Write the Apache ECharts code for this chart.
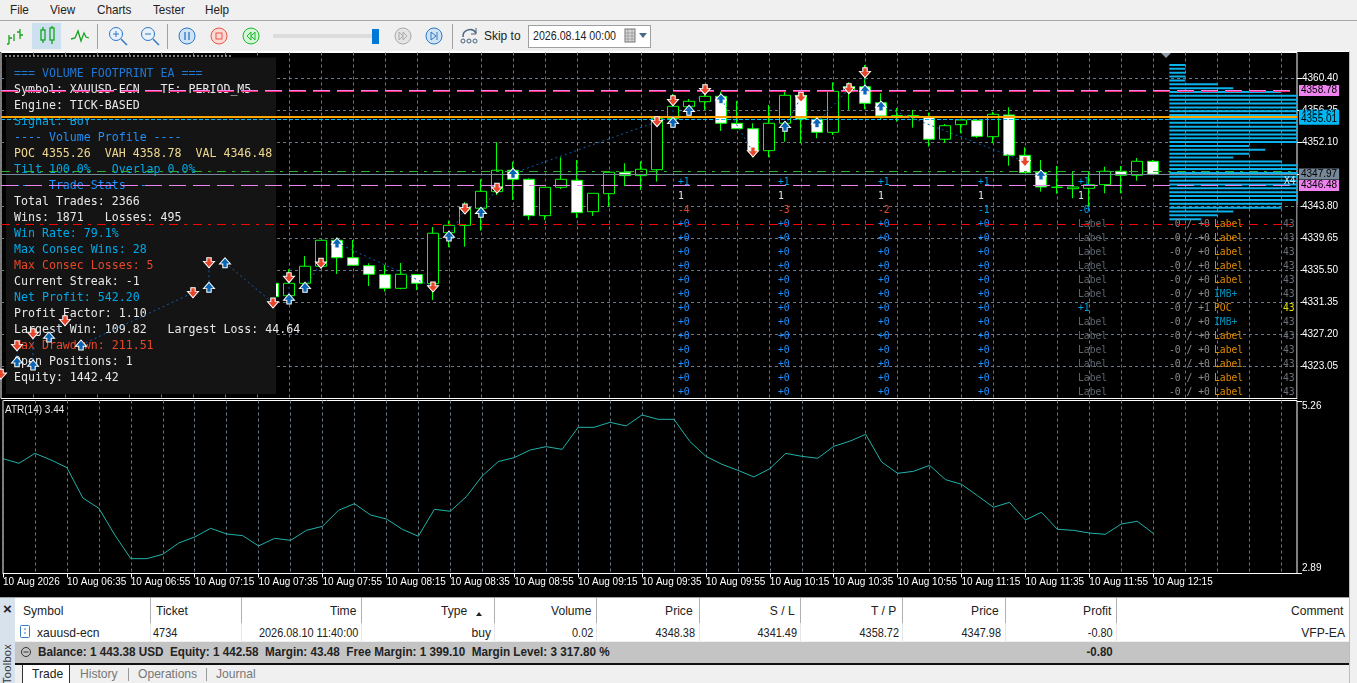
<!DOCTYPE html>
<html><head><meta charset="utf-8">
<script src="https://cdn.jsdelivr.net/npm/echarts@6/dist/echarts.min.js"></script>
<style>
html,body{margin:0;padding:0;width:1357px;height:683px;overflow:hidden;background:#f0f0f0}
#ui{position:absolute;left:0;top:0;width:1357px;height:683px;font-family:"Liberation Sans",sans-serif;font-size:13px;color:#222}
#ui .t{position:absolute;white-space:pre;line-height:16px}
#ui .r{position:absolute;background:#000}
#main{position:absolute;left:0;top:0;width:1357px;height:683px}
</style></head><body>
<div id="ui"></div>
<div id="main"></div>
<script>
// ---------- chart data (price, volume, ATR values) ----------
const xTickLabels = ["10 Aug 2026","10 Aug 06:35","10 Aug 06:55","10 Aug 07:15","10 Aug 07:35","10 Aug 07:55","10 Aug 08:15","10 Aug 08:35","10 Aug 08:55","10 Aug 09:15","10 Aug 09:35","10 Aug 09:55","10 Aug 10:15","10 Aug 10:35","10 Aug 10:55","10 Aug 11:15","10 Aug 11:35","10 Aug 11:55","10 Aug 12:15"];
const priceTicks = [4360.40,4356.25,4352.10,4347.95,4343.80,4339.65,4335.50,4331.35,4327.20,4323.05];
const atrTicks = [2.89,5.26];
const hiddenBars = 17;   // bars behind the stats panel
// [open, close, low, high]
const candles = [
[4333.81,4332.07,4331.65,4334.50],[4332.20,4333.81,4331.26,4335.63],[4333.81,4336.02,4332.72,4337.35],[4336.02,4339.39,4336.00,4339.39],
[4339.39,4337.13,4335.02,4339.72],[4337.13,4336.15,4336.15,4339.43],[4336.09,4334.98,4333.46,4336.41],[4334.93,4333.16,4332.72,4336.18],
[4333.16,4334.98,4333.03,4336.44],[4334.93,4333.81,4332.94,4334.93],[4333.76,4340.30,4331.65,4341.11],[4340.37,4341.33,4338.48,4341.93],
[4341.33,4343.58,4338.56,4344.32],[4343.54,4345.74,4340.63,4347.30],[4345.69,4348.47,4345.26,4352.10],[4348.47,4347.30,4344.61,4349.58],
[4347.30,4342.58,4342.02,4347.43],[4342.58,4346.26,4342.02,4346.30],[4346.26,4347.30,4346.04,4350.15],[4347.17,4342.97,4342.28,4349.80],
[4343.10,4345.48,4342.54,4345.48],[4345.43,4348.21,4343.75,4348.28],[4348.21,4347.77,4346.43,4349.37],[4347.77,4348.60,4345.91,4349.63],
[4348.54,4355.21,4346.99,4355.21],[4355.16,4356.76,4354.60,4358.36],[4356.71,4357.41,4355.64,4357.71],[4357.36,4358.06,4356.29,4359.31],
[4358.06,4354.56,4353.56,4358.66],[4354.56,4353.86,4353.86,4357.45],[4353.86,4351.01,4350.15,4354.56],[4351.01,4354.56,4350.15,4356.93],
[4354.56,4358.19,4352.17,4358.79],[4358.19,4355.12,4351.97,4358.19],[4355.08,4353.39,4352.62,4355.08],[4353.39,4358.71,4353.04,4359.88],
[4358.66,4359.31,4356.29,4359.88],[4359.31,4357.15,4356.38,4362.12],[4357.23,4355.51,4355.12,4358.45],[4355.55,4355.51,4354.77,4356.54],
[4355.51,4355.55,4353.99,4356.29],[4355.42,4352.49,4351.53,4355.94],[4352.49,4354.25,4352.04,4354.47],[4354.38,4354.99,4353.26,4355.10],
[4354.95,4352.87,4352.65,4354.95],[4352.82,4355.73,4351.97,4356.06],[4355.64,4350.41,4349.06,4356.64],[4350.41,4348.15,4348.15,4351.45],
[4348.21,4346.30,4345.69,4349.80],[4346.26,4346.26,4345.43,4349.02],[4346.08,4346.30,4344.83,4348.34],[4346.13,4346.60,4343.75,4348.28],
[4346.60,4348.34,4345.48,4348.93],[4348.34,4347.82,4345.48,4349.02],[4347.82,4349.63,4347.12,4350.06],[4349.63,4347.95,4347.95,4349.80]
];
const atrValues = [4.470,4.406,4.543,4.452,4.346,3.929,3.787,3.420,3.094,3.094,3.154,3.310,3.392,3.512,3.434,3.411,3.269,3.374,3.346,3.484,3.539,3.759,3.851,3.695,3.640,3.498,3.402,3.773,3.746,3.947,4.232,4.429,4.484,4.589,4.635,4.598,4.901,4.901,4.970,4.920,5.071,5.011,5.011,4.704,4.502,4.392,4.310,4.218,4.332,4.543,4.502,4.475,4.640,4.709,4.805,4.424,4.268,4.296,4.378,4.181,4.117,3.961,3.801,3.869,3.626,3.732,3.498,3.484,3.447,3.429,3.571,3.608,3.443];
// trade marks: [bar index, price]
const sellArrows = [[0,4322.01],[1,4325.72],[2,4327.28],[4,4328.96],[12,4332.59],[13,4336.48],[17,4331.26],[18,4334.54],[20,4336.41],[27,4333.33],[29,4343.45],[31,4346.13],[41,4354.77],[42,4357.49],[44,4358.92],[47,4350.84],[50,4357.93],[53,4359.05],[54,4361.12],[64,4349.58]];
const buyArrows = [[1,4323.64],[2,4323.22],[3,4326.85],[5,4325.81],[13,4333.29],[14,4336.48],[18,4331.78],[19,4333.29],[21,4339.04],[28,4339.95],[30,4343.02],[32,4348.08],[42,4354.69],[43,4356.25],[45,4357.75],[49,4354.17],[51,4354.64],[54,4358.88],[55,4356.80],[65,4347.86]];
// [open bar, open price, close bar, close price]
const tradeLinks = [[1,4323.64,1,4325.72],[2,4323.22,2,4327.28],[3,4326.85,4,4328.96],[5,4325.81,12,4332.59],[13,4333.29,13,4336.48],[14,4336.48,17,4331.26],[18,4331.78,18,4334.54],[19,4333.29,20,4336.41],[21,4339.04,27,4333.33],[28,4339.95,29,4343.45],[30,4343.02,31,4346.13],[32,4348.08,41,4354.77],[42,4354.69,42,4357.49],[43,4356.25,44,4358.92],[45,4357.75,47,4350.84],[49,4354.17,50,4357.93],[51,4354.64,53,4359.05],[54,4358.88,54,4361.12],[55,4356.80,64,4349.58]];
// volume profile
const profilePrices = [4362.12,4361.62,4361.12,4360.62,4360.12,4359.62,4359.12,4358.62,4358.12,4357.62,4357.12,4356.62,4356.12,4355.62,4355.12,4354.62,4354.12,4353.62,4353.12,4352.62,4352.12,4351.62,4351.12,4350.62,4350.12,4349.62,4349.12,4348.62,4348.12,4347.62,4347.12,4346.62,4346.12,4345.62,4345.12,4344.62,4344.12,4343.62,4343.12,4342.62,4342.12];
const profileVolumes = [1,1,1,1,1,3,4,7,9,9,9,9,9,10,11,9,9,9,9,9,9,5,6,5,4,7,9,9,9,9,9,9,9,9,9,9,7,7,4,3,2];
// horizontal levels
const vahPrice=4358.80, tpPrice=4358.69, pocLine=4355.42, poc2Tag=4355.61, cyanPrice=4355.08, entryPrice=4348.38, bidPrice=4347.97, valPrice=4346.48, slPrice=4341.49;
// text
const statsLines = [
["=== VOLUME FOOTPRINT EA ===","#1e78d6"],["Symbol: XAUUSD-ECN   TF: PERIOD_M5","#e8e8e8"],["Engine: TICK-BASED","#e8e8e8"],["Signal: BUY","#00a8e8"],
["---- Volume Profile ----","#1e90ff"],["POC 4355.26  VAH 4358.78  VAL 4346.48","#f0d890"],["Tilt 100.0%   Overlap 0.0%","#00a8e8"],["---- Trade Stats ----","#1e90ff"],
["Total Trades: 2366","#e8e8e8"],["Wins: 1871   Losses: 495","#e8e8e8"],["Win Rate: 79.1%","#00a8e8"],["Max Consec Wins: 28","#00a8e8"],["Max Consec Losses: 5","#e8472a"],
["Current Streak: -1","#e8e8e8"],["Net Profit: 542.20","#00a8e8"],["Profit Factor: 1.10","#e8e8e8"],["Largest Win: 109.82   Largest Loss: 44.64","#e8e8e8"],
["Max Drawdown: 211.51","#e8472a"],["Open Positions: 1","#e8e8e8"],["Equity: 1442.42","#e8e8e8"]];
const fpThirdRow = [["-4","#e8472a"],["-3","#e8472a"],["-2","#e8472a"],["-1","#00a0f0"],["-0","#00a0f0"]];

// ---------- layout ----------
const MONO='"DejaVu Sans Mono",monospace', SANS='"Liberation Sans",sans-serif';
const barCount=82, yMin=4318.87, yMax=4363.74;
const categories=[]; for(let i=0;i<barCount;i++) categories.push(i%4===0&&xTickLabels[i/4]?xTickLabels[i/4]:"");
const blank=['-','-','-','-'];
const candleData=Array(hiddenBars).fill(blank).concat(candles);
const grid=i=>i%4===0;
const UP_ARROW='path://M5 0L10 6L7 6L7 9.5L3 9.5L3 6L0 6Z', DOWN_ARROW='path://M3 0L7 0L7 3.5L10 3.5L5 9.5L0 3.5L3 3.5Z';
const GRIDLINE={color:'#687888',type:[3,3],width:1};

function level(v,color,width,type,tag,tagBg){
  const d={yAxis:v,lineStyle:{color,width,type,cap:'butt'}};
  if(tag) d.label={show:true,position:'end',distance:2,formatter:tag,color:'#000',backgroundColor:tagBg,padding:[1,2,0,2],lineHeight:10,fontSize:10,fontFamily:SANS};
  return d;
}
const gfx=[];
gfx.push({type:'line',z:1,shape:{x1:5,y1:56,x2:232,y2:56},style:{stroke:'#fff',lineDash:[2,2],lineWidth:1}});
gfx.push({type:'polygon',z:6,shape:{points:[[1161,53],[1171,53],[1166,58]]},style:{fill:'#8a9aa8'}});
gfx.push({type:'rect',z:3,shape:{x:6,y:57.5,width:270,height:336.5},style:{fill:'#141414'}});
statsLines.forEach((l,i)=>gfx.push({type:'text',z:4,x:14,y:73.5+16*i,style:{text:l[0],fill:l[1],font:'11.6px '+MONO,verticalAlign:'middle'}}));
function txt(x,y,s,c){gfx.push({type:'text',z:4,x,y,style:{text:s,fill:c,font:'9.7px '+MONO,verticalAlign:'middle'}});}
const rowY=k=>182+14*k;
[678,778,878,978,1078].forEach((x,c)=>{
  txt(x,rowY(0),'+1','#00a0f0'); txt(x,rowY(1),'1','#e8e8e8');
  txt(x,rowY(2),fpThirdRow[c][0],fpThirdRow[c][1]);
  for(let k=3;k<16;k++){
    if(c<4) txt(x,rowY(k),'+0','#1e90ff');
    else if(k===9) txt(x,rowY(k),'+1','#00a0f0');
    else txt(x,rowY(k),'Label','#5e6670');
  }
});
for(let k=3;k<16;k++){
  txt(1169,rowY(k),k===9?'-0 / +1':'-0 / +0','#8c8c8c');
  if(k===9) txt(1214,rowY(k),'POC','#e08c00');
  else if(k===8||k===10) txt(1214,rowY(k),'IMB+','#0090b8');
  else txt(1214,rowY(k),'Label','#e08c00');
}
for(let k=3;k<16;k++){gfx.push({type:'text',z:4,x:1283,y:rowY(k),style:{text:'43',fill:k===9?'#e0e000':'#6a707a',font:'9.7px '+MONO,verticalAlign:'middle'}});}
gfx.push({type:'text',z:7,x:1284,y:181,style:{text:'X4',fill:'#cfe8ff',font:'9.7px '+MONO,verticalAlign:'middle'}});
gfx.push({type:'text',z:7,x:5,y:410,style:{text:'ATR(14) 3.44',fill:'#e8e8e8',font:'10px '+SANS,verticalAlign:'middle'}});
gfx.push({type:'rect',z:4,shape:{x:1297.5,y:205,width:3,height:193},style:{fill:'#000'}});

const option={
 animation:false,
 graphic:{elements:gfx},
 grid:[
  {left:1,top:52.5,width:1296,height:346,show:true,backgroundColor:'#000',borderColor:'#fff',borderWidth:1,containLabel:false},
  {left:1,top:400.5,width:1296,height:173,show:true,backgroundColor:'#000',borderColor:'#fff',borderWidth:1},
  {left:1169.3,top:52.5,width:127.7,height:346}
 ],
 xAxis:[
  {type:'category',gridIndex:0,data:categories,boundaryGap:false,axisLine:{show:false},axisTick:{show:false},axisLabel:{show:false},
   splitLine:{show:true,interval:(i)=>i%2===0,lineStyle:GRIDLINE}},
  {type:'category',gridIndex:1,data:categories,boundaryGap:false,axisLine:{show:true,lineStyle:{color:'#fff'}},
   axisTick:{show:true,interval:(i)=>grid(i)&&i<=72,length:4,lineStyle:{color:'#fff'}},
   axisLabel:{show:true,interval:(i)=>grid(i)&&i<=72,color:'#fff',fontSize:10,fontFamily:SANS,align:'left',margin:4,hideOverlap:false},
   splitLine:{show:true,interval:(i)=>i%2===0,lineStyle:GRIDLINE}},
  {type:'value',gridIndex:2,min:0,max:7.98,show:false}
 ],
 yAxis:[
  {type:'value',gridIndex:0,position:'right',min:yMin,max:yMax,scale:true,splitLine:{show:false},axisLine:{show:false},
   axisTick:{show:true,customValues:priceTicks,length:5,lineStyle:{color:'#fff'}},
   axisLabel:{show:true,customValues:priceTicks,margin:5,color:'#fff',fontSize:10,fontFamily:SANS,formatter:v=>v.toFixed(2)}},
  {type:'value',gridIndex:1,position:'right',min:2.89,max:5.27,scale:true,splitLine:{show:false},axisLine:{show:false},
   axisTick:{show:true,customValues:atrTicks,length:5,lineStyle:{color:'#fff'}},
   axisLabel:{show:true,customValues:atrTicks,margin:5,color:'#fff',fontSize:10,fontFamily:SANS,formatter:v=>v.toFixed(2),verticalAlignMinLabel:'bottom',verticalAlignMaxLabel:'top'}},
  {type:'value',gridIndex:2,min:yMin,max:yMax,show:false}
 ],
 series:[
  {type:'line',xAxisIndex:0,yAxisIndex:0,z:1,data:[],silent:true,
   markLine:{z:1,silent:true,symbol:'none',animation:false,label:{show:false},
    data:priceTicks.map(v=>({yAxis:v,lineStyle:GRIDLINE}))}},
  {type:'custom',xAxisIndex:2,yAxisIndex:2,z:2,silent:true,clip:true,
   data:profilePrices.map((p,i)=>[profileVolumes[i],p]),
   renderItem:(params,api)=>{
     const a=api.coord([0,api.value(1)]),b=api.coord([api.value(0),api.value(1)]);
     const s=params.coordSys;
     const r=echarts.graphic.clipRectByRect({x:a[0],y:a[1]-1,width:b[0]-a[0],height:2},{x:s.x,y:s.y,width:s.width,height:s.height});
     return r&&{type:'rect',shape:r,style:{fill:'#0cb2ec'}};
   }},
  {type:'candlestick',xAxisIndex:0,yAxisIndex:0,z:2,barWidth:11,silent:true,data:candleData,
   itemStyle:{color:'#000',color0:'#fff',borderColor:'#00ff00',borderColor0:'#00ff00',borderColorDoji:'#00ff00',borderWidth:1}},
  {type:'line',xAxisIndex:0,yAxisIndex:0,z:5,data:[],silent:true,
   markLine:{z:5,silent:true,symbol:'none',animation:false,label:{show:false},precision:2,
    data:[
     level(poc2Tag,'rgba(0,0,0,0)',0,'solid','4355.61','#00b8f5'),
     level(vahPrice,'#ee82ee',1,[17,7],'4358.78','#ee82ee'),
     level(tpPrice,'#ff2a6d',1,[17,7]),
     level(cyanPrice,'#00bfff',1,[4,2],'4355.01','#00b8f5'),
     level(pocLine,'#ffa500',2,'solid'),
     level(entryPrice,'#2db32d',1,[9,6,3,6]),
     level(bidPrice,'#778899',1,'solid','4347.97','#778899'),
     level(valPrice,'#ee82ee',1,[17,7],'4346.48','#ee82ee'),
     level(slPrice,'#ff0000',1,[9,6,3,6])
    ]}},
  ...tradeLinks.map(t=>({type:'line',xAxisIndex:0,yAxisIndex:0,z:5,silent:true,symbol:'none',clip:true,
     data:[[t[0],t[1]],[t[2],t[3]]],lineStyle:{color:'#0f5fae',width:1,type:[2,3]}})),
  {type:'scatter',xAxisIndex:0,yAxisIndex:0,z:6,silent:true,symbol:DOWN_ARROW,symbolSize:[11,10],data:sellArrows,
   itemStyle:{color:'#e8452a',borderColor:'#fff',borderWidth:1,opacity:1},clip:true},
  {type:'scatter',xAxisIndex:0,yAxisIndex:0,z:6,silent:true,symbol:UP_ARROW,symbolSize:[11,10],data:buyArrows,
   itemStyle:{color:'#0a64b4',borderColor:'#fff',borderWidth:1,opacity:1},clip:true},
  {type:'line',xAxisIndex:1,yAxisIndex:1,z:3,silent:true,symbol:'none',data:atrValues,lineStyle:{color:'#20b2aa',width:1}}
 ]
};

// ---------- terminal window chrome ----------
const ui=document.getElementById('ui');
function box(x,y,w,h,bg,extra){const d=document.createElement('div');d.className='r';d.style.cssText=`left:${x}px;top:${y}px;width:${w}px;height:${h}px;background:${bg};${extra||''}`;ui.appendChild(d);return d;}
function label(s,x,y,opt){opt=opt||{};const d=document.createElement('div');d.className='t';d.textContent=s;
  let css=`top:${y-8}px;`; css+=opt.right?`right:${1357-x}px;`:`left:${x}px;`;
  const sx=opt.sx||0.93;
  css+=`transform:scaleX(${sx});transform-origin:${opt.right?'right':'left'} center;`;
  if(opt.bold)css+='font-weight:bold;'; if(opt.color)css+=`color:${opt.color};`; if(opt.size)css+=`font-size:${opt.size}px;`;
  d.style.cssText=css; ui.appendChild(d);return d;}
function svg(x,y,w,h,inner){const d=document.createElement('div');d.style.cssText=`position:absolute;left:${x}px;top:${y}px;width:${w}px;height:${h}px`;d.innerHTML=`<svg width="${w}" height="${h}" xmlns="http://www.w3.org/2000/svg">${inner}</svg>`;ui.appendChild(d);}
box(0,51,1349,547,'#000');
box(0,51,1349,1,'#fff');
box(0,20,1357,1,'#a8a8a8');
[["File",10],["View",50],["Charts",97],["Tester",153],["Help",205]].forEach(m=>label(m[0],m[1],10,{size:13,sx:.9}));
box(32,23,29,26,'#cce0f0');
[97,167,452].forEach(x=>box(x,24,1,25,'#a0a0a0'));
const G='#12a51c',B='#2f78c4';
svg(5,26,20,20,`<path d="M4 18V9M2 18h2M4 12h3M15 13V3M12 6h3M15 9h3M9 15V8" stroke="${G}" stroke-width="1.3" fill="none"/>`);
svg(36,25,24,22,`<g stroke="${G}" stroke-width="1.3" fill="none"><rect x="5" y="5" width="4" height="10"/><path d="M7 2v3M7 15v3"/><rect x="14" y="3" width="4" height="12"/><path d="M16 1v2M16 15v4"/></g>`);
svg(70,27,20,18,`<path d="M1 12l4-1 3-7 3 10 3-8 2 4 3 1" stroke="${G}" stroke-width="1.3" fill="none"/>`);
svg(108,26,20,20,`<circle cx="8" cy="8" r="6.5" stroke="${B}" fill="#e8f2fb"/><path d="M5 8h6M8 5v6" stroke="${B}"/><path d="M13 13l6 6" stroke="${B}" stroke-width="1.5"/>`);
svg(140,26,20,20,`<circle cx="8" cy="8" r="6.5" stroke="${B}" fill="#e8f2fb"/><path d="M5 8h6" stroke="${B}"/><path d="M13 13l6 6" stroke="${B}" stroke-width="1.5"/>`);
svg(178,27,18,18,`<circle cx="9" cy="9" r="8" stroke="${B}" fill="#cfe3f6"/><path d="M7 5v8M11 5v8" stroke="${B}" stroke-width="1.3"/>`);
svg(210,27,18,18,`<circle cx="9" cy="9" r="8" stroke="#e8554a" fill="#fbdad6"/><rect x="6" y="6" width="6" height="6" stroke="#e8554a" fill="none"/>`);
svg(242,27,18,18,`<circle cx="9" cy="9" r="8" stroke="#20b82e" fill="#d4f5d6"/><path d="M9 5L5 9l4 4zM13 5L9 9l4 4z" stroke="#20b82e" fill="none"/>`);
box(273,34,100,4,'#dcdcdc');
box(372,29,7,15,'#0078d7');
svg(394,27,18,18,`<circle cx="9" cy="9" r="8" stroke="#aaa" fill="#e4e4e4"/><path d="M5 5l4 4-4 4zM9 5l4 4-4 4z" stroke="#aaa" fill="none"/>`);
svg(425,27,18,18,`<circle cx="9" cy="9" r="8" stroke="${B}" fill="#cfe3f6"/><path d="M6 5l5 4-5 4zM12 5v8" stroke="${B}" fill="none"/>`);
svg(460,26,22,20,`<path d="M3 11a7 7 0 0 1 13-4" stroke="#44617f" fill="none" stroke-width="1.5"/><path d="M16 2v6h-5" stroke="#44617f" fill="none"/><circle cx="3" cy="15" r="2" stroke="#44617f" fill="none"/><circle cx="9" cy="15" r="2" stroke="#44617f" fill="none"/><circle cx="15" cy="15" r="2" stroke="#44617f" fill="none"/>`);
label('Skip to',484,36,{size:13,sx:.92});
box(528,25,121,21,'#fff','border:1px solid #a0a0a0;');
label('2026.08.14 00:00',533,36,{size:13,sx:.82});
svg(624,28,26,16,`<rect x="1" y="1" width="10" height="13" fill="#d8d8d8" stroke="#777"/><path d="M1 5h10M1 8h10M1 11h10M4 1v13M8 1v13" stroke="#777" stroke-width=".5"/><path d="M15 5h8l-4 5z" fill="#4a6a8a"/>`);
box(0,598,1357,85,'#f0f0f0');
box(0,597,1349,1,'#a0a0a0');
box(1349,51,1,632,'#bdbdbd');
box(0,598,15,85,'#d8e2ec');
label('×',3,609,{bold:true,size:15,sx:1});
const tb=document.createElement('div');tb.textContent='Toolbox';tb.style.cssText='position:absolute;left:-13px;top:656px;width:40px;text-align:center;line-height:16px;font-size:11px;color:#333;transform:rotate(-90deg);letter-spacing:.3px';ui.appendChild(tb);
box(15,598,1334,43,'#fff');
box(15,642,1334,21,'#c4c4c4');
box(15,663,1334,2,'#111');
box(15,665,1334,18,'#f0f0f0');
[150,241,361,494,596,699,800,902,1005,1116].forEach(x=>box(x,598,1,25,'#b0b0b0'));
[150,241,361,494,596,699,800,902,1005,1116].forEach(x=>box(x,623,1,18,'#e6e6e6'));
label('Symbol',23,611);label('Ticket',156,611);
[["Time",356],["Type",467],["Volume",591],["Price",693],["S / L",795],["T / P",896],["Price",999],["Profit",1111],["Comment",1343]].forEach(c=>label(c[0],c[1],611,{right:true}));
svg(475,606,10,8,`<path d="M1 6h6L4 2z" fill="#222"/>`);
svg(20,625,11,14,`<rect x=".5" y=".5" width="9" height="12" rx="1" fill="#fff" stroke="#3a7cc0"/><path d="M4 4h2M4 8h2" stroke="#3a7cc0"/>`);
label('xauusd-ecn',37,633);label('4734',153,633,{sx:.84});
[["2026.08.10 11:40:00",358],["buy",491],["0.02",593],["4348.38",695],["4341.49",797],["4358.72",899],["4347.98",1001],["-0.80",1113],["VFP-EA",1345]].forEach(c=>label(c[0],c[1],633,{right:true,sx:c[0]==='buy'||c[0]==='VFP-EA'?.93:.84}));
svg(20,646,12,12,`<circle cx="6" cy="6" r="4.5" stroke="#333" fill="none"/><path d="M3.5 6h5" stroke="#333"/>`);
label('Balance: 1 443.38 USD  Equity: 1 442.58  Margin: 43.48  Free Margin: 1 399.10  Margin Level: 3 317.80 %',38,652,{bold:true,sx:.9});
label('-0.80',1113,652,{bold:true,right:true,sx:.88});
box(22,665,1,18,'#333');box(69,665,1,18,'#333');box(23,665,46,18,'#fff');
label('Trade',32,674);label('History',80,674,{color:'#777'});label('Operations',138,674,{color:'#777'});label('Journal',216,674,{color:'#777'});
box(128,668,1,13,'#999');box(206,668,1,13,'#999');

const chart=echarts.init(document.getElementById('main'),null,{renderer:'canvas',width:1357,height:683});
chart.setOption(option);
</script>
</body></html>
